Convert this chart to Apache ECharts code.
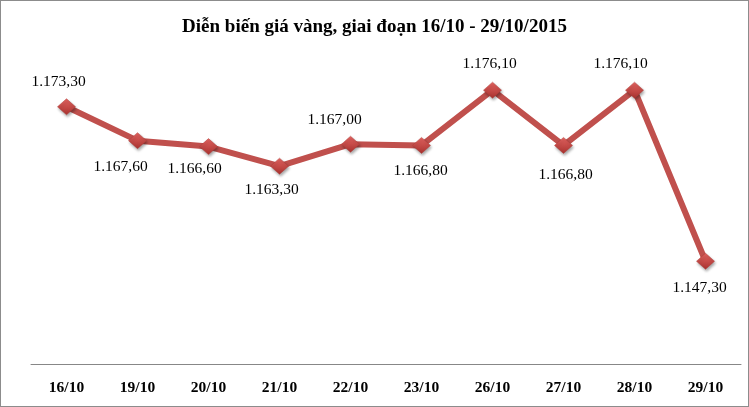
<!DOCTYPE html>
<html>
<head>
<meta charset="utf-8">
<script src="https://cdn.jsdelivr.net/npm/echarts@6/dist/echarts.min.js"></script>
<style>
  html, body { margin: 0; padding: 0; background: #fff; }
  #chart { width: 749px; height: 407px; box-sizing: border-box; border: 1px solid #8c8c8c; }
</style>
</head>
<body>
<div id="chart"></div>
<script>
// ngay giao dich
let days = ['16/10', '19/10', '20/10', '21/10', '22/10', '23/10', '26/10', '27/10', '28/10', '29/10'];
// gia vang (USD/oz)
let prices = [1173.3, 1167.6, 1166.6, 1163.3, 1167.0, 1166.8, 1176.1, 1166.8, 1176.1, 1147.3];
// vi tri nhan: tren / duoi
let labelSide = ['top', 'bottom', 'bottom', 'bottom', 'top', 'bottom', 'top', 'bottom', 'top', 'bottom'];
let labelShiftX = [-8, -17, -14, -8, -16, -1, -3, 2, -14, -6];
let labelShiftY = [0, 1, -3, -2, 1, 0, -1, 4, -1, 1];

function fmtVN(v) {
    let parts = v.toFixed(2).split('.');
    let intPart = parts[0].replace(/\B(?=(\d{3})+(?!\d))/g, '.');
    return intPart + ',' + parts[1];
}

const dom = document.getElementById('chart');
const myChart = echarts.init(dom);

const seriesData = prices.map(function (p, i) {
    return {
        value: p,
        label: {
            position: labelSide[i],
            offset: [labelShiftX[i], labelShiftY[i]]
        }
    };
});

const option = {
    animation: false,
    title: {
        text: 'Diễn biến giá vàng, giai đoạn 16/10 - 29/10/2015',
        left: 'center',
        top: 12,
        textStyle: {
            fontFamily: 'Liberation Serif',
            fontWeight: 'bold',
            fontSize: 19,
            color: '#000'
        }
    },
    grid: {
        left: 30,
        right: 7,
        top: 66,
        bottom: 42
    },
    xAxis: {
        type: 'category',
        data: days,
        boundaryGap: true,
        axisLine: { lineStyle: { color: '#878787', width: 1 } },
        axisTick: { show: false },
        axisLabel: {
            margin: 16,
            fontFamily: 'Liberation Serif',
            fontWeight: 'bold',
            fontSize: 15.5,
            color: '#000'
        }
    },
    yAxis: {
        type: 'value',
        min: 1130,
        max: 1180,
        show: false,
        splitLine: { show: false }
    },
    series: [{
        type: 'line',
        data: seriesData,
        symbol: 'diamond',
        symbolSize: [18, 16],
        lineStyle: { color: '#c0504d', width: 6 },
        itemStyle: {
            color: new echarts.graphic.LinearGradient(0, 0, 0, 1, [
                { offset: 0, color: '#e46461' },
                { offset: 1, color: '#a8322f' }
            ]),
            borderColor: '#b13c39',
            borderWidth: 0.5,
            shadowColor: 'rgba(0,0,0,0.35)',
            shadowBlur: 3,
            shadowOffsetX: 1,
            shadowOffsetY: 2
        },
        label: {
            show: true,
            distance: 9,
            fontFamily: 'Liberation Serif',
            fontSize: 15.5,
            color: '#000',
            formatter: function (p) { return fmtVN(p.value); }
        }
    }]
};

myChart.setOption(option, true);
</script>
</body>
</html>
